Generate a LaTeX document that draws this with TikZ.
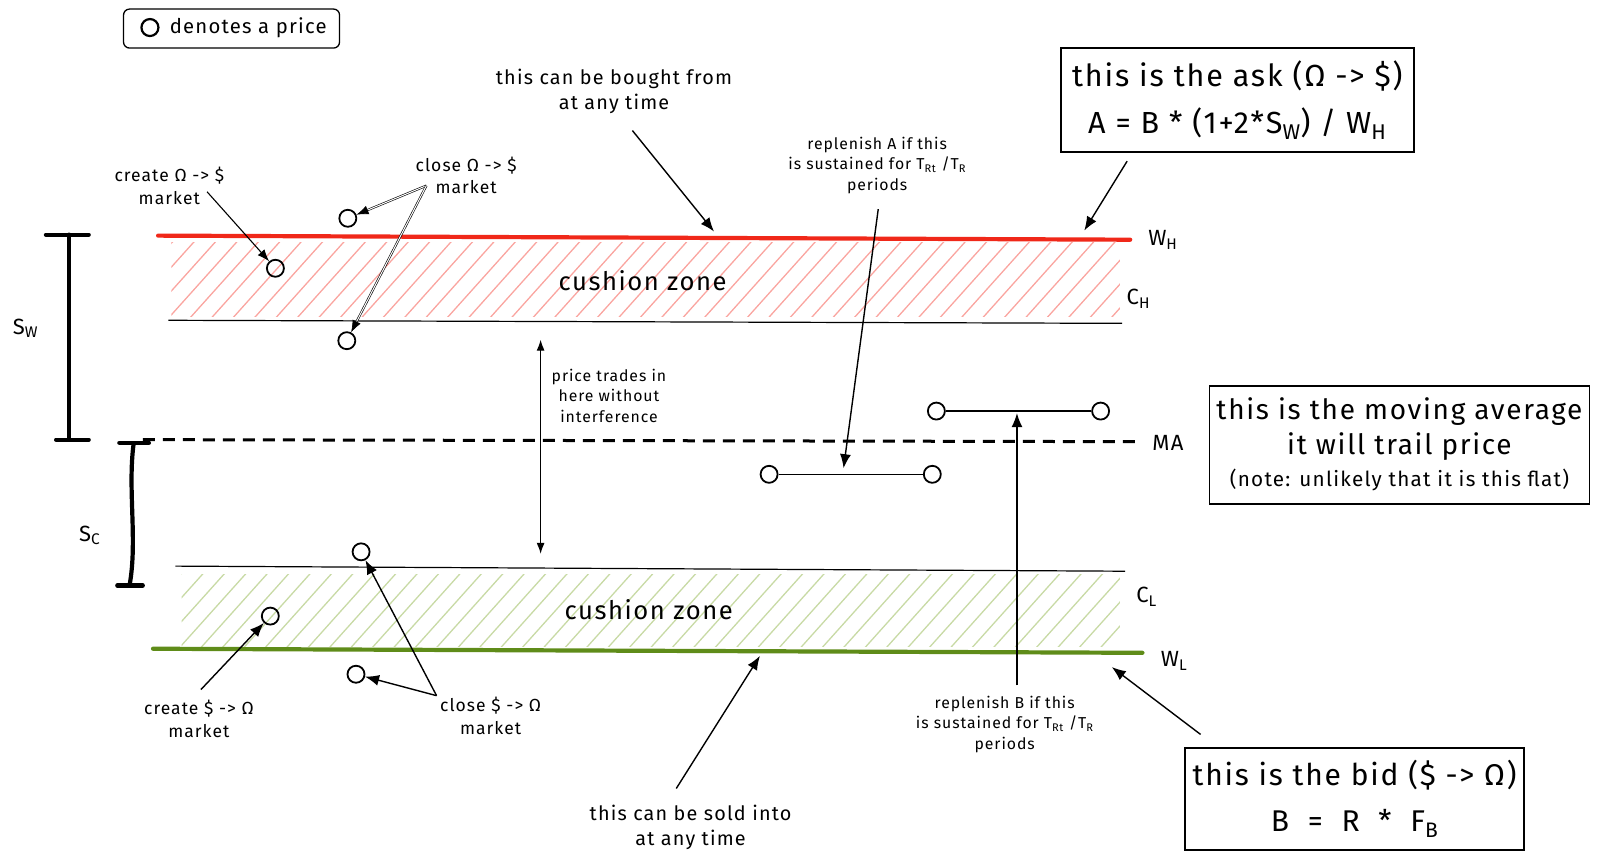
\documentclass[tikz,border=0pt]{standalone}
\usepackage{fontspec}
\setmainfont{Fira Sans}[LetterSpace=6]
\usetikzlibrary{arrows.meta}
\definecolor{wred}{RGB}{240,40,25}
\definecolor{hred}{RGB}{250,165,160}
\definecolor{wgreen}{RGB}{95,140,25}
\definecolor{hgreen}{RGB}{200,218,165}
\tikzset{
  price/.style={circle, draw, line width=1.8pt, minimum size=17pt, inner sep=0pt},
  small/.style={font=\fontsize{15.8}{20.5}\selectfont, align=center, inner sep=1pt},
  mkt/.style={font=\fontsize{17.5}{22.5}\selectfont, align=center, inner sep=1pt},
  mid/.style={font=\fontsize{19.8}{25}\selectfont, align=center, inner sep=1pt},
  big/.style={font=\fontsize{22}{26}\selectfont, inner sep=1pt},
  arr/.style={-{Latex[length=14pt,width=11pt]}, line width=1.4pt},
  thinarr/.style={-{Latex[length=12pt,width=9pt]}, line width=1.1pt},
  box/.style={draw, line width=1.7pt, align=center, inner sep=2pt},
  bar/.style={line width=4.2pt, line cap=round},
}
\begin{document}
\begin{tikzpicture}[x=1.02pt,y=-1.02pt]
\useasboundingbox (0,0) rectangle (1568.6,846.1);

% legend
\node[draw, rounded corners=6pt, line width=1.3pt, minimum width=216pt, minimum height=39pt] (legend) at (227,28) {};
\node[circle, draw, line width=2.2pt, minimum size=17pt, inner sep=0pt] (lego) at (147,27) {};
\node[anchor=west, font=\fontsize{20.3}{24}\selectfont] (legt) at (163,27) {denotes a price};

% hatched zones
\begin{scope}
  \clip (168,238) rectangle (1098,310);
  \foreach \x in {60,81,...,1120} \draw[hred, line width=1.3pt] (\x,312) -- ++(70,-78);
\end{scope}
\begin{scope}
  \clip (178,563) rectangle (1098,634);
  \foreach \x in {70,91,...,1120} \draw[hgreen, line width=1.3pt] (\x,636) -- ++(70,-78);
\end{scope}

% main lines
\draw[wred, line width=4.2pt, line cap=round] (155,231) -- (1108,235);
\draw[line width=1.2pt] (165,314) -- (1100,317);
\draw[line width=3pt, dash pattern=on 12pt off 8pt] (140,431) -- (1115,433);
\draw[line width=1.2pt] (172,555) -- (1103,560);
\draw[wgreen, line width=4.2pt, line cap=round] (150,636) -- (1120,640);

% line labels
\node[big] (wh) at (1140,235) {W\textsubscript{H}};
\node[big] (ch) at (1116,293) {C\textsubscript{H}};
\node[big] (ma) at (1145,434) {MA};
\node[big] (cl) at (1124,585) {C\textsubscript{L}};
\node[big] (wl) at (1151,648) {W\textsubscript{L}};

\node[font=\fontsize{25.6}{30}\selectfont] (czH) at (630,275) {cushion zone};
\node[font=\fontsize{25.6}{30}\selectfont] (czL) at (636,598) {cushion zone};

% brackets
\draw[bar] (45,230) -- (87,230);
\draw[bar] (68,230) -- (68,431);
\draw[bar] (55,431) -- (87,431);
\node[big] (sw) at (25,322) {S\textsubscript{W}};
\draw[bar] (117,434) -- (146,434);
\draw[bar] (131,435) .. controls (125,480) and (135,530) .. (127,574);
\draw[bar] (115,574) -- (140,574);
\node[big] (sc) at (88,525) {S\textsubscript{C}};

% prices
\node[price] (p1) at (341,214) {};
\node[price] (p2) at (270,263) {};
\node[price] (p3) at (340,334) {};
\node[price] (p4) at (354,541) {};
\node[price] (p5) at (265,604) {};
\node[price] (p6) at (349,661) {};
\node[price] (p7) at (754,465) {};
\node[price] (p8) at (914,465) {};
\node[price] (p9) at (918,403) {};
\node[price] (p10) at (1079,403) {};
\draw[line width=1.6pt] (p7) -- (p8);
\draw[line width=1.6pt] (p9) -- (p10);
\coordinate (segA) at (827,459);
\coordinate (segB) at (997,405);

% top annotations
\node[mid] (bought) at (602,90) {this can be bought from\\at any time};
\coordinate (boughtS) at (620,128);
\coordinate (boughtE) at (700,227);
\draw[arr] (boughtS) -- (boughtE);

\node[mkt] (createA) at (166,182) {create Ω -> \$\\market};
\coordinate (createAS) at (203,188);
\draw[thinarr] (createAS) -- (p2);

\node[mkt] (closeA) at (457,172) {close Ω -> \$\\market};
\coordinate (closeAS) at (418,182);
\draw[thinarr, double, double distance=1pt, line width=0.6pt] (closeAS) -- (p1);
\draw[thinarr, double, double distance=1pt, line width=0.6pt] (closeAS) -- (p3);

\node[small] (replA) at (860,162) {replenish A if this\\is sustained for T\textsubscript{Rt} /T\textsubscript{R}\\periods};
\coordinate (replAS) at (861,205);
\draw[arr] (replAS) -- (segA);

% middle
\node[small] (trades) at (597,388) {price trades in\\here without\\interference};
\coordinate (tradeT) at (530,333);
\coordinate (tradeB) at (530,543);
\draw[{Latex[length=11pt,width=8pt]}-{Latex[length=11pt,width=8pt]}, line width=1.2pt] (tradeT) -- (tradeB);

% bottom annotations
\node[mkt] (createB) at (195,705) {create \$ -> Ω\\market};
\coordinate (createBS) at (197,676);
\draw[arr] (createBS) -- (p5);

\node[mkt] (closeB) at (481,702) {close \$ -> Ω\\market};
\coordinate (closeBS) at (428,682);
\draw[arr] (closeBS) -- (p4);
\draw[arr] (closeBS) -- (p6);

\node[small] (replB) at (985,710) {replenish B if this\\is sustained for T\textsubscript{Rt} /T\textsubscript{R}\\periods};
\coordinate (replBS) at (997,672);
\draw[arr] (replBS) -- (segB);

\node[mid] (sold) at (677,811) {this can be sold into\\at any time};
\coordinate (soldS) at (663,773);
\coordinate (soldE) at (745,643);
\draw[arr] (soldS) -- (soldE);

% boxes
\node[box, minimum width=353pt, minimum height=104pt, font=\fontsize{30.5}{36}\selectfont] (ask) at (1213,98)
  {this is the ask (Ω -> \$)\\[11pt] A = B * (1+2*S\textsubscript{W}) / W\textsubscript{H}};
\coordinate (askS) at (1105,158);
\coordinate (askE) at (1063,226);
\draw[arr] (askS) -- (askE);

\node[box, minimum width=380pt, minimum height=118pt, font=\fontsize{28}{35}\selectfont] (mabox) at (1372,436)
  {this is the moving average\\it will trail price\\[-3pt]\fontsize{20.7}{26}\selectfont (note: unlikely that it is this flat)};

\node[box, minimum width=339pt, minimum height=102pt, font=\fontsize{30}{36}\selectfont] (bid) at (1328,783)
  {this is the bid (\$ -> Ω)\\[10pt] B\hspace{0.3em} = \hspace{0.3em}R\hspace{0.3em} * \hspace{0.3em}F\textsubscript{B}};
\coordinate (bidS) at (1177,720);
\coordinate (bidE) at (1090,654);
\draw[arr] (bidS) -- (bidE);
\end{tikzpicture}
\end{document}
